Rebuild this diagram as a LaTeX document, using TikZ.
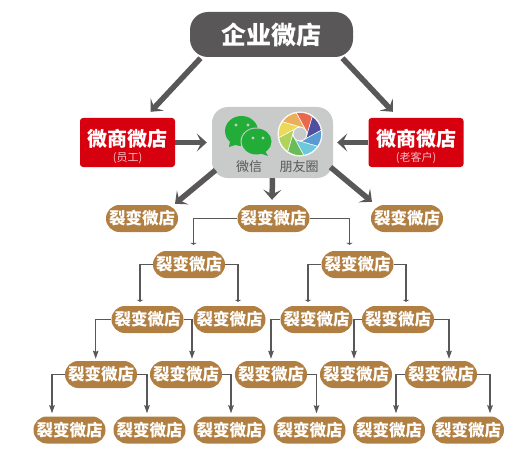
\documentclass[tikz,border=0pt]{standalone}
\usepackage{fontspec}
\newfontfamily\cjk{Noto Sans CJK SC}
\usetikzlibrary{arrows.meta}
\definecolor{shopink}{HTML}{595757}
\definecolor{shopred}{HTML}{D7000F}
\definecolor{shopbrown}{HTML}{B17F42}
\definecolor{shoppanel}{HTML}{C9CACA}
\definecolor{shopgreen}{HTML}{22AC38}
\newcommand{\fsz}[1]{\fontsize{#1}{#1}\selectfont}
\tikzset{
  bx/.style={align=center, text=white, inner sep=0pt, font=\cjk\bfseries},
  hub/.style={bx, fill=shopink, rounded corners=18pt, minimum width=163pt, minimum height=45pt, font=\cjk\bfseries\fsz{25}},
  redbx/.style={bx, fill=shopred, rounded corners=3pt, minimum width=95pt, minimum height=49pt},
  lf/.style={bx, fill=shopbrown, rounded corners=13.4pt, minimum width=72pt, minimum height=27pt, font=\cjk\bfseries\fsz{16.5}},
  lbl/.style={font=\cjk\fsz{13}, text=shopink, inner sep=0pt},
  fat/.style={-{Stealth[length=10pt,width=18pt,inset=4.5pt]}, line width=5.5pt, color=shopink},
  arr/.style={-{Stealth[length=2pt,width=6.5pt,inset=0pt]}, line width=1.9pt, color=shopink},
  arrs/.style={-{Stealth[length=8pt,width=5.5pt,inset=1pt]}, line width=1.4pt, color=shopink},
}
\begin{document}
\begin{tikzpicture}[x=1pt,y=-1pt]
  \useasboundingbox (0,0) rectangle (528,452);
  \node[hub] (top) at (271.5,34.5) {企业微店};
  \node[redbx] (redl) at (127.5,142.5) {\rule{0pt}{25pt}{\fsz{20}微商微店}\\[3pt]{\cjk\mdseries\fsz{11}\color{white!75!shopred}(员工)}};
  \node[redbx] (redr) at (416,142.5) {\rule{0pt}{25pt}{\fsz{20}微商微店}\\[3pt]{\cjk\mdseries\fsz{11}\color{white!75!shopred}(老客户)}};
  \node[fill=shoppanel, rounded corners=16pt, minimum width=121pt, minimum height=71pt, inner sep=0pt] (pan) at (272.5,142.5) {};
  \node[lbl] (wx) at (249,167) {微信};
  \node[lbl] (pyq) at (299,167) {朋友圈};
  \fill[shopgreen] (241.5,131) ellipse[x radius=16.5pt, y radius=15pt];
  \fill[shopgreen] (230,141) -- (229,147) -- (238,144) -- cycle;
  \fill[shoppanel] (256.5,141.5) ellipse[x radius=16pt, y radius=14pt];
  \fill[shopgreen] (256.5,141.5) ellipse[x radius=15pt, y radius=13pt];
  \fill[shopgreen] (265,151) -- (268,156) -- (259,153) -- cycle;
  \foreach \x/\y in {236/125,248/125,253/138,263/138} \fill[shoppanel] (\x,\y) circle[radius=1.6pt];
  \begin{scope}[shift={(300,134)}]
    \fill[white] (0,0) circle[radius=22.5pt];
    \foreach \a/\c in {100/E9694F,55/4F4EA0,10/5B9BD5,-35/6CC8DC,-80/6ABB5A,-125/AFD35B,-170/EBD95B,-215/EBAE5B} {
      \definecolor{blade}{HTML}{\c}
      \fill[blade, draw=white, line width=.5pt] (\a:21.5pt) arc[start angle=\a, end angle=\a-45, radius=21.5pt] -- (\a-105:7pt) -- (\a-60:7pt) -- cycle;
    }
    \fill[shoppanel, draw=white, line width=.8pt] (0,0) circle[radius=7pt];
  \end{scope}
  \node[lf] (l1a) at (142,218.5) {裂变微店};
  \node[lf] (l1b) at (273.5,218.5) {裂变微店};
  \node[lf] (l1c) at (407,218.5) {裂变微店};
  \node[lf] (l2a) at (189,264.5) {裂变微店};
  \node[lf] (l2b) at (357.5,264.5) {裂变微店};
  \node[lf] (l3a) at (147.5,319.5) {裂变微店};
  \node[lf] (l3b) at (229.5,319.5) {裂变微店};
  \node[lf] (l3c) at (316.5,319.5) {裂变微店};
  \node[lf] (l3d) at (398,319.5) {裂变微店};
  \node[lf] (l4a) at (101,374.5) {裂变微店};
  \node[lf] (l4b) at (186,374.5) {裂变微店};
  \node[lf] (l4c) at (271,374.5) {裂变微店};
  \node[lf] (l4d) at (356,374.5) {裂变微店};
  \node[lf] (l4e) at (441,374.5) {裂变微店};
  \node[lf] (l5a) at (69.5,430) {裂变微店};
  \node[lf] (l5b) at (149.5,430) {裂变微店};
  \node[lf] (l5c) at (229.5,430) {裂变微店};
  \node[lf] (l5d) at (309.5,430) {裂变微店};
  \node[lf] (l5e) at (389,430) {裂变微店};
  \node[lf] (l5f) at (468,430) {裂变微店};
  \draw[fat] ([xshift=-71pt,yshift=-1pt]top.south) -- ([xshift=23pt,yshift=6pt]redl.north);
  \draw[fat] ([xshift=71pt,yshift=-1pt]top.south) -- ([xshift=-23pt,yshift=6pt]redr.north);
  \draw[fat] (redl.east) -- ([xshift=-5pt]pan.west);
  \draw[fat] (redr.west) -- ([xshift=4pt]pan.east);
  \draw[fat] ([xshift=-57pt,yshift=8pt]pan.south) -- ([xshift=33pt,yshift=1pt]l1a.north);
  \draw[fat] (pan.south) -- ([xshift=-1.5pt,yshift=5pt]l1b.north);
  \draw[fat] ([xshift=58pt,yshift=11pt]pan.south) -- ([xshift=-35pt,yshift=3pt]l1c.north);
  \foreach \a/\s/\b/\dx/\dy in {l1b/west/l2a/4.5/6,l1b/east/l2b/-8/6,l2a/west/l3a/-7.5/4,l2a/east/l3b/8.5/4,l2b/west/l3c/-8.5/4,l2b/east/l3d/8/4}
    \draw[arr] (\a.\s) -| ([xshift=\dx pt,yshift=\dy pt]\b.north);
  \foreach \a/\s/\b/\dx/\dy in {l3a/west/l4a/-5.3/2,l3a/east/l4b/6/2,l3c/west/l4c/0/2,l3d/west/l4d/-2/2,l3d/east/l4e/8/2,l4a/west/l5a/-17.5/3,l4a/east/l5b/-2.5/3,l4b/east/l5c/1.5/3,l4c/east/l5d/7/3,l4e/west/l5e/7/3,l4e/east/l5f/22/3}
    \draw[arrs] (\a.\s) -| ([xshift=\dx pt,yshift=\dy pt]\b.north);
\end{tikzpicture}
\end{document}
